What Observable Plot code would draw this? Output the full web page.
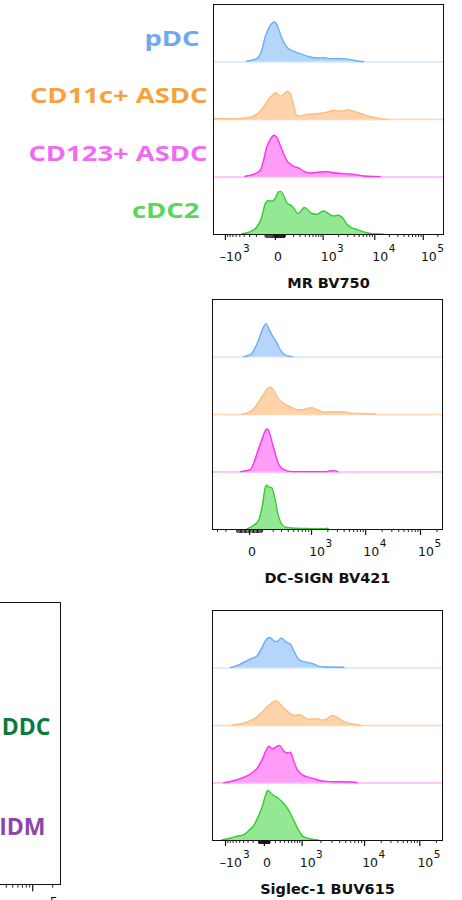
<!DOCTYPE html>
<html><head><meta charset="utf-8">
<script src="https://cdn.jsdelivr.net/npm/d3@7"></script>
<script src="https://cdn.jsdelivr.net/npm/@observablehq/plot@0.6"></script>
<style>
html,body{margin:0;padding:0;background:#fff;overflow:hidden}
#root{position:relative;width:462px;height:900px;overflow:hidden;background:#fff}
#root svg{position:absolute;overflow:visible}
</style></head><body><div id="root"></div>
<script>
// ---------- categories & colours ----------
const cellTypes   = ["pDC", "CD11c+ ASDC", "CD123+ ASDC", "cDC2"];
const labelColors = ["#6fa8f2", "#f5a23c", "#ef6cf0", "#5ad65a"];
const fillColors  = ["#b6d5fb", "#fdd4a9", "#ff9df8", "#94e894"];
const lineColors  = ["#6aaef6", "#fbbd82", "#ff33ee", "#36cc36"];
const baseColors  = ["#d5e8fc", "#fdd8b2", "#ffb3f9", null];

// ---------- axis ticks (biexponential display, channel 0–1024) ----------
const majorRaw  = [-1000, 0, 1000, 10000, 100000];
const majorText = ["–10", "0", "10", "10", "10"];
const majorExp  = ["3", "", "3", "4", "5"];
const mrMajorCh     = [53, 276, 488, 718, 934];
const dcsignMajorCh = [-111, 165, 441, 682, 926];
const siglecMajorCh = [58, 231, 399, 677, 923];
const leftMajorCh   = [-111, 165, 441, 682, 923];

// ---------- histograms: [channel, % of lane height] ----------
const mrPDC = [[148,1.2],[193,5.8],[215,20],[230,43.5],[245,58],[260,67],[270,69.6],[282,65.5],[297,49],[312,35],[326,26],[349,20],[386,14.5],[430,8.7],[460,7],[490,7.5],[519,5.8],[564,5.8],[601,4.6],[638,1.7],[668,0.6]];
const mrASDC = [[0,1.7],[89,1.2],[148,2.9],[178,5.8],[208,14.5],[230,26],[252,37.7],[279,46.4],[297,40.6],[312,43.5],[329,49.3],[344,43.5],[356,26],[371,7],[386,5.8],[415,8.7],[460,9.9],[505,12.8],[534,15.7],[564,14.5],[601,16.8],[623,14.5],[653,10.4],[683,7],[712,4],[757,0.6],[772,0]];
const mrCD123 = [[141,1.2],[178,4.6],[208,11.6],[223,29],[237,52],[255,66.7],[270,72.5],[285,66.7],[297,55],[312,40.6],[326,29],[341,23.2],[356,18.6],[378,15.7],[401,10.4],[430,7],[475,8.7],[505,9.3],[534,7.5],[579,5.8],[623,4.6],[668,1.7],[742,0.6]];
const mrCDC2 = [[126,1.2],[163,4.6],[193,13],[215,30],[230,53],[245,59],[260,58],[275,62.6],[289,74],[300,75],[312,68],[329,54],[344,51],[359,45],[374,36.5],[386,39],[404,47],[418,43.5],[438,36.5],[460,35],[490,41],[512,36.5],[534,32],[556,33.6],[571,30.7],[594,18],[616,11.6],[638,8.7],[668,4.6],[697,1.7],[757,0.6]];

const dcPDC = [[139,0.6],[169,4],[184,11.6],[202,26],[221,46.4],[239,58],[251,49],[266,37.7],[285,26],[303,11.6],[325,2.9],[355,0.6]];
const dcASDC = [[132,0.6],[162,3.5],[184,10],[206,21.5],[229,36],[243,44],[258,47.6],[273,41.8],[288,30],[310,21.5],[332,15.7],[355,11.6],[377,8],[407,8.7],[429,11],[444,11.6],[466,8],[496,4],[540,4.6],[585,4.6],[614,2.3],[659,1.7],[726,0.6]];
const dcCD123 = [[125,0.6],[169,4],[184,15.7],[199,33],[217,53],[233,70],[242,74.8],[254,67.9],[266,50.5],[281,30],[295,12.8],[318,4],[355,0.6],[510,0.6],[528,2.3],[548,2],[558,0.3]];
const dcCDC2 = [[154,1.2],[184,7.5],[206,16],[221,39],[236,74],[243,77],[254,73],[263,73],[276,57],[291,28],[306,10.4],[325,4],[362,2.3],[421,1.7],[444,1.2],[503,1.2],[510,2.3],[518,0.5]];

const sgPDC = [[80,0.6],[110,4],[139,9.9],[169,15.7],[199,21.5],[221,36],[236,47.6],[255,53],[273,47.6],[288,45.8],[306,52],[325,45.8],[347,41.8],[362,30],[377,18.6],[392,12.8],[421,9.9],[451,7],[473,2.9],[503,1.7],[585,1.2]];
const sgASDC = [[87,0.6],[125,2.9],[162,7],[191,12.8],[221,23.2],[243,32],[266,39.4],[285,43],[303,36],[325,27.8],[347,20.3],[369,17.4],[389,18.6],[407,14.5],[429,10.4],[444,11.6],[466,11.6],[488,9.3],[510,11.6],[533,17.4],[555,14],[577,8.7],[607,4],[644,1.2],[659,0.6]];
const sgCD123 = [[50,0.6],[95,4],[139,9.9],[169,15.7],[199,26],[221,40.6],[240,58],[251,63.8],[266,59.7],[280,62],[298,65.5],[318,55],[335,52.2],[347,53.4],[362,37.7],[377,23.2],[399,14.5],[429,9.9],[451,7.5],[481,4],[503,2.9],[637,1.2],[644,0.3]];
const sgCDC2 = [[43,1.2],[80,4],[110,7.5],[139,9.9],[162,17.4],[184,26],[206,43.5],[221,58],[236,78.3],[246,87],[258,83],[273,78.3],[295,72.5],[318,63.8],[340,52],[362,34.8],[380,20.3],[399,8.7],[421,4],[451,1.7],[473,0.6]];

const leftLabels = ["DDC", "IDM"];
const leftLabelColors = ["#0b7a3f", "#8c45aa"];

// ---------- helpers ----------
function channelOf(majorCh, cofactor) {
  const [mNeg, m0, m1, m4, m5] = majorCh;
  const lin = Math.asinh(1000 / cofactor);
  return raw => {
    const a = Math.abs(raw);
    if (a <= 1000) {
      const t = Math.asinh(a / cofactor) / lin;
      return raw >= 0 ? m0 + t * (m1 - m0) : m0 - t * (m0 - mNeg);
    }
    const l = Math.log10(a);
    if (raw < 0) return mNeg - (l - 3) * (m4 - m1);
    return l <= 4 ? m1 + (l - 3) * (m4 - m1) : m4 + (l - 4) * (m5 - m4);
  };
}
function tickSets(chOf) {
  const fine = [], minor = [];
  for (let k = 1; k <= 9; k++) { fine.push(k * 10, -k * 10); minor.push(k * 100, -k * 100); }
  for (const d of [1e3, 1e4, 1e5]) for (let k = 2; k <= 9; k++) { minor.push(k * d); if (d === 1e3) minor.push(-k * d); }
  const inD = v => v >= 0 && v <= 1024;
  return {fine: fine.map(chOf).filter(inD), minor: minor.map(chOf).filter(inD)};
}
function majorsOf(majorCh) {
  return majorRaw.map((r, i) => ({raw: r, ch: majorCh[i], text: majorText[i], exp: majorExp[i]}))
    .filter(d => d.ch >= 0 && d.ch <= 1024);
}
function axisMarks(majorCh, cofactor, s, visible = () => true, withBase = true) {
  const chOf = channelOf(majorCh, cofactor);
  const t = tickSets(chOf);
  const M = majorsOf(majorCh);
  const L = M.filter(visible);
  const fs = 12.5 * s, fe = 10.5 * s;
  const marks = [
    Plot.axisX(t.minor, {tickSize: 3 * s, tickFormat: () => "", stroke: "#222"}),
    Plot.axisX(t.fine, {tickSize: 4 * s, tickFormat: () => "", stroke: "#111"}),
    Plot.axisX(M.map(d => d.ch), {tickSize: 6 * s, tickFormat: () => "", stroke: "#111", strokeWidth: 1.2}),
    Plot.text(L.filter(d => d.raw > 0), {x: "ch", text: "exp", frameAnchor: "bottom", lineAnchor: "bottom", textAnchor: "start", dy: 17.7 * s, dx: 14 * s, fontSize: fe, fill: "#111"}),
    Plot.text(L.filter(d => d.raw < 0), {x: "ch", text: "exp", frameAnchor: "bottom", lineAnchor: "bottom", textAnchor: "start", dy: 17.7 * s, dx: 17.5 * s, fontSize: fe, fill: "#111"})
  ];
  if (withBase) marks.push(
    Plot.text(L.filter(d => d.raw === 0), {x: "ch", text: "text", frameAnchor: "bottom", lineAnchor: "bottom", dy: 26 * s, dx: 2.5 * s, fontSize: fs, fill: "#111"}),
    Plot.text(L.filter(d => d.raw > 0), {x: "ch", text: "text", frameAnchor: "bottom", lineAnchor: "bottom", textAnchor: "end", dy: 26 * s, dx: 13.5 * s, fontSize: fs, fill: "#111"}),
    Plot.text(L.filter(d => d.raw < 0), {x: "ch", text: "text", frameAnchor: "bottom", lineAnchor: "bottom", textAnchor: "end", dy: 26 * s, dx: 16.5 * s, fontSize: fs, fill: "#111"})
  );
  return marks;
}

function ridgePanel(cfg) {
  const marks = [];
  cfg.series.forEach((s, i) => {
    const base = (cellTypes.length - 1 - i) * 100;
    if (baseColors[i]) marks.push(Plot.ruleY([base], {stroke: baseColors[i], strokeWidth: 1.5}));
    marks.push(Plot.areaY(s, {x: d => d[0], y1: () => base, y2: d => base + d[1], fill: fillColors[i], curve: "monotone-x"}));
    marks.push(Plot.lineY(s, {x: d => d[0], y: d => base + d[1], stroke: lineColors[i], strokeWidth: 1.4, curve: "monotone-x"}));
  });
  marks.push(Plot.frame({stroke: "#111", strokeWidth: 1}));
  marks.push(...axisMarks(cfg.majorCh, cfg.cofactor, 1));
  marks.push(Plot.text([cfg.title], {frameAnchor: "bottom", lineAnchor: "bottom", dy: 53, fontSize: 14.5, fontWeight: "bold", fill: "#111"}));
  if (cfg.labels) {
    cellTypes.forEach((name, i) => {
      const base = (cellTypes.length - 1 - i) * 100;
      marks.push(Plot.text([name], {
        x: () => 0, y: () => base + 40, textAnchor: "end", lineAnchor: "middle",
        dx: name.includes("ASDC") ? -6 : -14,
        fill: labelColors[i], fontSize: 21.4, fontWeight: "bold", fontFamily: "Open Sans",
        ariaDescription: "row-label"
      }));
    });
  }
  const svg = Plot.plot({
    width: 462, height: cfg.height,
    marginLeft: cfg.left, marginRight: 462 - cfg.left - 230,
    marginTop: cfg.marginTop, marginBottom: cfg.height - cfg.marginTop - 230,
    x: {domain: [0, 1024], label: null},
    y: {domain: [0, 400], axis: null},
    style: {fontFamily: "DejaVu Sans", fontSize: "12.5px", color: "#111", background: "transparent", overflow: "visible"},
    marks
  });
  svg.style.top = cfg.top + "px";
  svg.style.left = "0px";
  return svg;
}

function leftPanel() {
  const s = 1.22;
  const marks = [
    Plot.frame({stroke: "#111", strokeWidth: 1}),
    // only the top of the 10^5 label shows inside the picture
    ...axisMarks(leftMajorCh, 200, s, d => d.raw === 100000, false),
    Plot.text([leftLabels[0]], {frameAnchor: "right", textAnchor: "end", lineAnchor: "middle", dx: -10, dy: -16,
      fill: leftLabelColors[0], fontSize: 23, fontWeight: "bold", fontFamily: "Open Sans"}),
    Plot.text([leftLabels[1]], {frameAnchor: "right", textAnchor: "end", lineAnchor: "middle", dx: -15, dy: 84,
      fill: leftLabelColors[1], fontSize: 23, fontWeight: "bold", fontFamily: "Open Sans"})
  ];
  const svg = Plot.plot({
    width: 302, height: 310, marginLeft: 0, marginRight: 20, marginTop: 12, marginBottom: 16,
    x: {domain: [0, 1024], label: null},
    y: {domain: [0, 100], axis: null},
    style: {fontFamily: "DejaVu Sans", fontSize: "12.5px", color: "#111", background: "transparent", overflow: "visible"},
    marks
  });
  svg.style.top = "590px";
  svg.style.left = "-222px";
  return svg;
}

const root = document.getElementById("root");
root.append(leftPanel());
root.append(ridgePanel({series: [mrPDC, mrASDC, mrCD123, mrCDC2], majorCh: mrMajorCh, cofactor: 200, title: "MR BV750",
  top: 0, marginTop: 4, height: 295, left: 213, labels: true}));
root.append(ridgePanel({series: [dcPDC, dcASDC, dcCD123, dcCDC2], majorCh: dcsignMajorCh, cofactor: 200, title: "DC-SIGN BV421",
  top: 295, marginTop: 4, height: 295, left: 212}));
root.append(ridgePanel({series: [sgPDC, sgASDC, sgCD123, sgCDC2], majorCh: siglecMajorCh, cofactor: 400, title: "Siglec-1 BUV615",
  top: 600, marginTop: 10, height: 300, left: 212}));

// horizontally stretch the bold category labels (the source lettering is wide)
function stretch(sel, k) {
  document.querySelectorAll(sel).forEach(t => {
    const L = t.getComputedTextLength();
    if (L > 0) {
      t.setAttribute("textLength", (L * k).toFixed(1));
      t.setAttribute("lengthAdjust", "spacingAndGlyphs");
    }
  });
}
stretch('g[aria-description="row-label"] text', 1.28);
</script>
</body></html>
